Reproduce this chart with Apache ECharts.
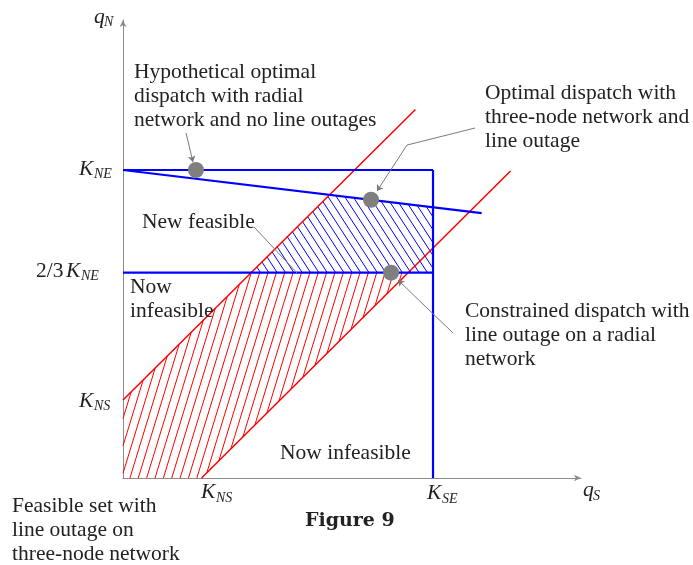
<!DOCTYPE html>
<html>
<head>
<meta charset="utf-8">
<script src="https://cdn.jsdelivr.net/npm/echarts@6/dist/echarts.min.js"></script>
<style>html,body{margin:0;padding:0;background:#fff;}#c{width:693px;height:565px;}</style>
</head>
<body>
<div id="c"></div>
<script>
// ---- data (units: K_NE = K_SE = 3) ----
const K_NE = 3, K_SE = 3, K_NS = 0.76, K_NE23 = 2;
const redUpper = [[0, 0.76], [2.83, 3.59]];
const redLower = [[0.76, 0], [3.75, 2.99]];
const blueTop = [[0, 3], [3, 3]];
const blueRight = [[3, 3], [3, 0]];
const blueMid = [[0, 2], [3, 2]];
const blueSlope = [[0, 3], [3.47, 2.58]];
const dots = [[0.706, 3], [2.40, 2.71], [2.594, 2]];
const blueHatch = [[1.24, 2], [2.0, 2.76], [3, 2.64], [3, 2]];
const redHatch = [[0, 0], [0.76, 0], [2.76, 2], [1.24, 2], [0, 0.76]];
const arrowSegs = [
  [[0.610, 3.360], [0.677, 3.078]],
  [[2.748, 3.243], [2.458, 2.795]],
  [[3.194, 1.412], [2.661, 1.928]]
];
const plainSegs = [
  [[3.407, 3.409], [2.748, 3.243]],
  [[1.268, 2.445], [1.684, 1.997]]
];
const X_MAX = 4.432, Y_MAX = 4.461;

const FONT = '"Liberation Serif", "Times New Roman", serif';
const FS = 21.5, LH = 24.3;

function hatch(pts, angleDeg, spacing) {
  const a = angleDeg * Math.PI / 180;
  const d = [Math.cos(a), -Math.sin(a)];
  const n = [-d[1], d[0]];
  const s = pts.map(p => p[0] * n[0] + p[1] * n[1]);
  const smin = Math.min(...s), smax = Math.max(...s);
  const segs = [];
  for (let v = Math.ceil(smin / spacing) * spacing; v <= smax; v += spacing) {
    const hits = [];
    for (let i = 0; i < pts.length; i++) {
      const j = (i + 1) % pts.length;
      const sp = s[i], sq = s[j];
      if (sp !== sq && (sp - v) * (sq - v) <= 0) {
        const t = (v - sp) / (sq - sp);
        hits.push([pts[i][0] + t * (pts[j][0] - pts[i][0]), pts[i][1] + t * (pts[j][1] - pts[i][1])]);
      }
    }
    if (hits.length >= 2) {
      hits.sort((p, q) => (p[0] * d[0] + p[1] * d[1]) - (q[0] * d[0] + q[1] * d[1]));
      segs.push([hits[0], hits[hits.length - 1]]);
    }
  }
  return segs;
}

function hatchSeries(poly, angle, spacing, color) {
  return {
    type: 'custom', silent: true, z: 1, data: [[0, 0]],
    renderItem: function (params, api) {
      const px = poly.map(p => api.coord(p));
      const segs = hatch(px, angle, spacing);
      return {
        type: 'group',
        children: segs.map(sg => ({
          type: 'line',
          shape: { x1: sg[0][0], y1: sg[0][1], x2: sg[1][0], y2: sg[1][1] },
          style: { stroke: color, lineWidth: 1 }
        }))
      };
    }
  };
}

function lineS(data, color, width, z) {
  return { type: 'line', data: data, showSymbol: false, silent: true, z: z,
    lineStyle: { color: color, width: width }, animation: false };
}

function txt(x, baseline, lines, opt) {
  opt = opt || {};
  const fs = opt.fs || FS;
  const lh = opt.lh || LH;
  return {
    type: 'text', x: x, y: baseline - 0.27 * fs - lh / 2, silent: true, z: 10,
    style: {
      text: lines.join('\n'), fill: '#222', lineHeight: lh,
      font: (opt.italic ? 'italic ' : '') + (opt.bold ? 'bold ' : '') + fs + 'px ' + (opt.family || FONT),
      verticalAlign: 'top', align: 'left'
    }
  };
}

const graphics = [
  txt(134, 78, ['Hypothetical optimal', 'dispatch with radial', 'network and no line outages']),
  txt(485, 99, ['Optimal dispatch with', 'three-node network and', 'line outage']),
  txt(465, 317, ['Constrained dispatch with', 'line outage on a radial', 'network']),
  txt(142, 228, ['New feasible']),
  txt(130, 293, ['Now', 'infeasible']),
  txt(280, 459, ['Now infeasible']),
  txt(12, 512, ['Feasible set with', 'line outage on', 'three-node network']),
  txt(305, 526, ['Figure 9'], { bold: true, fs: 19, family: '"DejaVu Serif", serif' }),
  // axis math labels
  txt(94, 23, ['q'], { italic: true }),
  txt(104, 26, ['N'], { italic: true, fs: 14 }),
  txt(583, 496, ['q'], { italic: true }),
  txt(593, 500, ['S'], { italic: true, fs: 14 }),
  txt(79, 175, ['K'], { italic: true }),
  txt(94, 178, ['NE'], { italic: true, fs: 14 }),
  txt(36, 277, ['2/3'], {}),
  txt(66, 277, ['K'], { italic: true }),
  txt(81, 280, ['NE'], { italic: true, fs: 14 }),
  txt(79, 407, ['K'], { italic: true }),
  txt(94, 410, ['NS'], { italic: true, fs: 14 }),
  txt(201, 498, ['K'], { italic: true }),
  txt(216, 502, ['NS'], { italic: true, fs: 14 }),
  txt(427, 499, ['K'], { italic: true }),
  txt(442, 503, ['SE'], { italic: true, fs: 14 })
];

const axisCommon = {
  type: 'value', min: 0,
  axisLine: { show: true, onZero: false, symbol: ['none', 'arrow'], symbolSize: [5, 7],
    lineStyle: { color: '#8a8a8a', width: 1 } },
  axisTick: { show: false }, axisLabel: { show: false }, splitLine: { show: false }
};

const chart = echarts.init(document.getElementById('c'), null, { renderer: 'canvas' });
chart.setOption({
  animation: false,
  backgroundColor: '#fff',
  grid: { left: 123, top: 20, width: 458, height: 458 },
  xAxis: Object.assign({}, axisCommon, { max: X_MAX }),
  yAxis: Object.assign({}, axisCommon, { max: Y_MAX }),
  series: [
    hatchSeries(redHatch, 73, 8, '#ff0000'),
    hatchSeries(blueHatch, -57, 7, '#0000ff'),
    lineS(redUpper, '#ff0000', 1.5, 2),
    lineS(redLower, '#ff0000', 1.5, 2),
    lineS(blueTop, '#0000ff', 2.2, 3),
    lineS(blueRight, '#0000ff', 2.2, 3),
    lineS(blueMid, '#0000ff', 2.2, 3),
    lineS(blueSlope, '#0000ff', 2.2, 3),
    {
      type: 'lines', coordinateSystem: 'cartesian2d', silent: true, z: 4,
      symbol: ['none', 'arrow'], symbolSize: 6,
      lineStyle: { color: '#7a7a7a', width: 1, opacity: 1, curveness: 0 },
      data: arrowSegs.map(c => ({ coords: c }))
    },
    {
      type: 'lines', coordinateSystem: 'cartesian2d', silent: true, z: 4,
      symbol: ['none', 'none'],
      lineStyle: { color: '#7a7a7a', width: 1, opacity: 1, curveness: 0 },
      data: plainSegs.map(c => ({ coords: c }))
    },
    {
      type: 'scatter', data: dots, symbolSize: 16, silent: true, z: 5,
      itemStyle: { color: '#7f7f7f', opacity: 1 }
    }
  ],
  graphic: graphics
});
</script>
</body>
</html>
